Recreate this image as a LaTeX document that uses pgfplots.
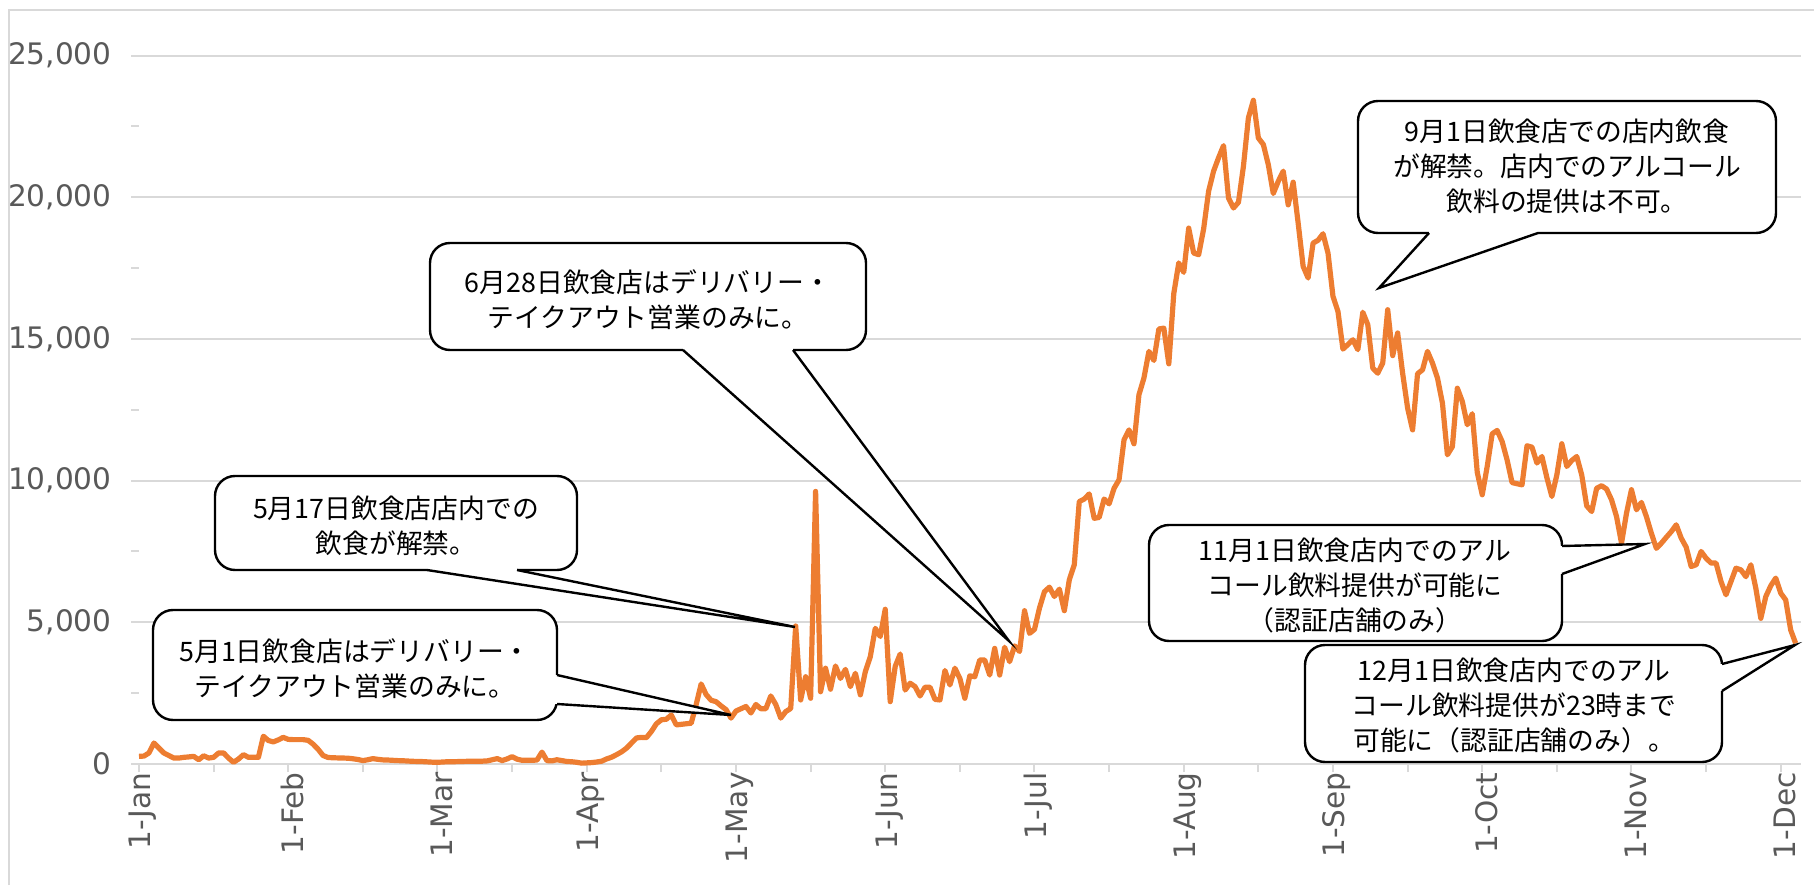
\documentclass[border=0pt]{standalone}
\usepackage{fontspec}
\setmainfont{DejaVu Sans}
\newfontfamily\jp{Noto Sans CJK JP}
\usepackage{pgfplots}
\pgfplotsset{compat=1.18}
\usepackage{pgfplotstable}
\definecolor{lineorange}{HTML}{ED7D31}
\definecolor{gridcol}{HTML}{D9D9D9}
\definecolor{ticktext}{HTML}{595959}
\pgfplotstableread[row sep=\\]{
d v\\
0 270\\ 1 280\\ 2 390\\ 3 740\\ 4 565\\ 5 390\\ 6 300\\ 7 210\\ 8 210\\ 9 235\\
10 250\\ 11 270\\ 12 150\\ 13 290\\ 14 210\\ 15 235\\ 16 390\\ 17 390\\ 18 210\\ 19 60\\
20 175\\ 21 330\\ 22 235\\ 23 235\\ 24 235\\ 25 980\\ 26 830\\ 27 780\\ 28 850\\ 29 940\\
30 870\\ 31 860\\ 32 860\\ 33 860\\ 34 835\\ 35 700\\ 36 520\\ 37 300\\ 38 230\\ 39 220\\
40 215\\ 41 210\\ 42 205\\ 43 185\\ 44 160\\ 45 120\\ 46 150\\ 47 190\\ 48 165\\ 49 145\\
50 140\\ 51 130\\ 52 120\\ 53 115\\ 54 105\\ 55 95\\ 56 90\\ 57 85\\ 58 75\\ 59 65\\
60 60\\ 61 70\\ 62 80\\ 63 80\\ 64 85\\ 65 90\\ 66 95\\ 67 95\\ 68 95\\ 69 100\\
70 110\\ 71 150\\ 72 190\\ 73 120\\ 74 180\\ 75 260\\ 76 170\\ 77 130\\ 78 130\\ 79 130\\
80 140\\ 81 420\\ 82 120\\ 83 110\\ 84 150\\ 85 120\\ 86 90\\ 87 80\\ 88 60\\ 89 30\\
90 40\\ 91 50\\ 92 70\\ 93 100\\ 94 180\\ 95 240\\ 96 330\\ 97 430\\ 98 560\\ 99 740\\
100 920\\ 101 940\\ 102 930\\ 103 1150\\ 104 1420\\ 105 1560\\ 106 1580\\ 107 1730\\ 108 1380\\ 109 1400\\
110 1420\\ 111 1440\\ 112 2100\\ 113 2825\\ 114 2450\\ 115 2250\\ 116 2200\\ 117 2050\\ 118 1920\\ 119 1620\\
120 1870\\ 121 1950\\ 122 2030\\ 123 1800\\ 124 2100\\ 125 1950\\ 126 1950\\ 127 2400\\ 128 2100\\ 129 1620\\
130 1850\\ 131 1960\\ 132 4870\\ 133 2260\\ 134 3080\\ 135 2320\\ 136 9620\\ 137 2550\\ 138 3380\\ 139 2640\\
140 3460\\ 141 3020\\ 142 3340\\ 143 2730\\ 144 3200\\ 145 2440\\ 146 3260\\ 147 3790\\ 148 4790\\ 149 4500\\
150 5460\\ 151 2200\\ 152 3440\\ 153 3880\\ 154 2610\\ 155 2850\\ 156 2730\\ 157 2400\\ 158 2710\\ 159 2710\\
160 2280\\ 161 2260\\ 162 3300\\ 163 2790\\ 164 3380\\ 165 3020\\ 166 2320\\ 167 3110\\ 168 3080\\ 169 3670\\
170 3670\\ 171 3140\\ 172 4080\\ 173 3140\\ 174 4120\\ 175 3610\\ 176 4170\\ 177 3970\\ 178 5410\\ 179 4610\\
180 4750\\ 181 5500\\ 182 6080\\ 183 6240\\ 184 5910\\ 185 6170\\ 186 5410\\ 187 6500\\ 188 7030\\ 189 9260\\
190 9350\\ 191 9530\\ 192 8670\\ 193 8700\\ 194 9350\\ 195 9180\\ 196 9730\\ 197 10030\\ 198 11440\\ 199 11790\\
200 11300\\ 201 13030\\ 202 13620\\ 203 14560\\ 204 14240\\ 205 15350\\ 206 15380\\ 207 14120\\ 208 16600\\ 209 17680\\
210 17350\\ 211 18910\\ 212 18030\\ 213 17970\\ 214 18880\\ 215 20210\\ 216 20920\\ 217 21390\\ 218 21820\\ 219 19970\\
220 19620\\ 221 19820\\ 222 21090\\ 223 22800\\ 224 23420\\ 225 22090\\ 226 21860\\ 227 21150\\ 228 20130\\ 229 20560\\
230 20920\\ 231 19730\\ 232 20530\\ 233 19090\\ 234 17560\\ 235 17150\\ 236 18380\\ 237 18480\\ 238 18710\\ 239 18030\\
240 16500\\ 241 15970\\ 242 14640\\ 243 14800\\ 244 14970\\ 245 14620\\ 246 15940\\ 247 15500\\ 248 13970\\ 249 13790\\
250 14150\\ 251 16030\\ 252 14410\\ 253 15210\\ 254 13790\\ 255 12560\\ 256 11790\\ 257 13770\\ 258 13910\\ 259 14560\\
260 14150\\ 261 13620\\ 262 12740\\ 263 10910\\ 264 11200\\ 265 13260\\ 266 12790\\ 267 11970\\ 268 12360\\ 269 10290\\
270 9500\\ 271 10500\\ 272 11650\\ 273 11770\\ 274 11380\\ 275 10730\\ 276 9930\\ 277 9890\\ 278 9850\\ 279 11230\\
280 11180\\ 281 10620\\ 282 10850\\ 283 10100\\ 284 9440\\ 285 10200\\ 286 11300\\ 287 10500\\ 288 10710\\ 289 10850\\
290 10200\\ 291 9110\\ 292 8910\\ 293 9730\\ 294 9820\\ 295 9700\\ 296 9320\\ 297 8730\\ 298 7790\\ 299 8850\\
300 9680\\ 301 8970\\ 302 9230\\ 303 8730\\ 304 8140\\ 305 7610\\ 306 7790\\ 307 8000\\ 308 8200\\ 309 8440\\
310 7970\\ 311 7650\\ 312 6970\\ 313 7030\\ 314 7500\\ 315 7260\\ 316 7090\\ 317 7090\\ 318 6440\\ 319 5970\\
320 6440\\ 321 6910\\ 322 6850\\ 323 6610\\ 324 7030\\ 325 6200\\ 326 5140\\ 327 5910\\ 328 6290\\ 329 6560\\
330 6030\\ 331 5790\\ 332 4730\\ 333 4260\\
}\cases
\newcommand{\callout}[9]{%
  % #1 x1, #2 y1, #3 x2, #4 y2, #5 b1, #6 b2, #7 tip, #8 text centre, #9 text
  \draw[black, line width=1.2pt, fill=white, rounded corners=10pt] (#1,#2) rectangle (#3,#4);
  \draw[white, line width=2.2pt] #5 -- #6;
  \fill[white] #5 -- #7 -- #6 -- cycle;
  \draw[black, line width=1.2pt, line join=miter] #5 -- #7 -- #6;
  \node[align=center, inner sep=0pt, font=\jp\fontsize{13.4pt}{17.5pt}\selectfont] at #8 {#9};
}
\begin{document}
\begin{tikzpicture}
\useasboundingbox (0,0) rectangle (907pt,442.5pt);
\begin{axis}[
  at={(69.5pt,60.5pt)}, anchor=south west,
  scale only axis, width=830.8pt, height=354.25pt,
  xmin=0, xmax=334, ymin=0, ymax=25000,
  axis x line*=bottom, axis y line*=left,
  x axis line style={draw=gridcol, line width=1pt, -},
  y axis line style={draw=none, -},
  xtick={0,30,...,330},
  xticklabels={1-Jan,1-Feb,1-Mar,1-Apr,1-May,1-Jun,1-Jul,1-Aug,1-Sep,1-Oct,1-Nov,1-Dec},
  minor xtick={15,45,...,315},
  ytick={0,5000,...,25000},
  minor ytick={2500,7500,...,22500},
  tick align=outside,
  major tick length=4pt, minor tick length=4pt,
  tick style={draw=gridcol, line width=1pt},
  ymajorgrids, major grid style={draw=gridcol, line width=1pt},
  scaled y ticks=false,
  /pgf/number format/1000 sep={,},
  /pgf/number format/assume math mode=true,
  ticklabel style={font=\fontsize{14.8pt}{16pt}\selectfont, text=ticktext},
  xticklabel style={rotate=90, anchor=east, inner sep=0pt, yshift=-2pt},
  yticklabel style={anchor=east, inner sep=0pt, xshift=-9.5pt},
  clip=false,
]
\addplot[lineorange, line width=2.6pt, line join=round, no markers] table[x=d, y=v]{\cases};
\end{axis}
\begin{scope}[x=0.5pt, y=-0.5pt, shift={(0,442.5pt)}]
\draw[gridcol, line width=1pt] (9,885) -- (9,10) -- (1814,10);
\callout{153}{610}{557}{720}{(557,675)}{(557,704)}{(731,715)}{(355,669)}{5月1日飲食店はデリバリー・\\テイクアウト営業のみに。}
\callout{215}{476}{577}{570}{(427,570)}{(517,570)}{(795,627)}{(396,526)}{5月17日飲食店店内での\\飲食が解禁。}
\callout{430}{243}{866}{350}{(683,350)}{(793,350)}{(1009,641)}{(648,300)}{6月28日飲食店はデリバリー・\\テイクアウト営業のみに。}
\callout{1358}{101}{1776}{233}{(1429,233)}{(1538,233)}{(1379,288)}{(1567,166)}{9月1日飲食店での店内飲食\\が解禁。店内でのアルコール\\飲料の提供は不可。}
\callout{1149}{525}{1562}{641}{(1562,546)}{(1562,574)}{(1645,544)}{(1355,586)}{11月1日飲食店内でのアル\\コール飲料提供が可能に\\（認証店舗のみ）}
\callout{1305}{645}{1722}{762}{(1722,664)}{(1722,691)}{(1795,645)}{(1514,706)}{12月1日飲食店内でのアル\\コール飲料提供が23時まで\\可能に（認証店舗のみ）。}
\end{scope}
\end{tikzpicture}
\end{document}
